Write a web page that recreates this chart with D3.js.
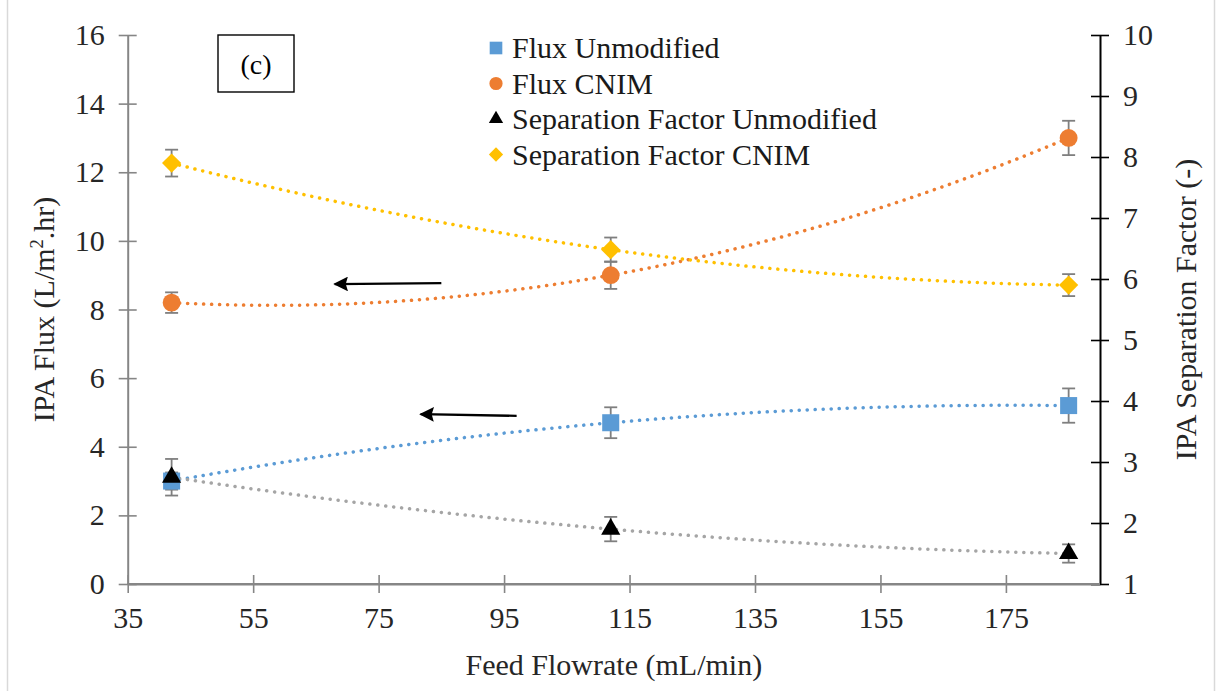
<!DOCTYPE html>
<html>
<head>
<meta charset="utf-8">
<script src="https://cdn.jsdelivr.net/npm/d3@7"></script>
<style>
  html, body { margin: 0; padding: 0; background: #fff; }
  svg { display: block; }
  svg text { font-family: "Liberation Serif", "Times New Roman", serif; }
</style>
</head>
<body>
<svg id="chart" width="1221" height="691"></svg>
<script>
// Feed flowrate (mL/min)
const flowrate = [42, 112, 185];

// IPA flux (L/m².hr), left axis
const fluxUnmodified = [3.0, 4.7, 5.2];
const fluxUnmodifiedErr = [0.25, 0.45, 0.5];
const fluxCNIM = [8.2, 9.0, 13.0];
const fluxCNIMErr = [0.3, 0.4, 0.5];

// IPA separation factor (-), right axis
const sepUnmodified = [2.75, 1.9, 1.5];
const sepUnmodifiedErr = [0.3, 0.2, 0.15];
const sepCNIM = [7.9, 6.48, 5.9];
const sepCNIMErr = [0.22, 0.2, 0.18];

const xTicks = [35, 55, 75, 95, 115, 135, 155, 175];
const yLeftTicks = [0, 2, 4, 6, 8, 10, 12, 14, 16];
const yRightTicks = [1, 2, 3, 4, 5, 6, 7, 8, 9, 10];

const legendLabels = ["Flux Unmodified", "Flux CNIM", "Separation Factor Unmodified", "Separation Factor CNIM"];

// Arrows pointing each flux curve to the left axis: [x1, y1, x2, y2] in data units (flowrate, flux)
const arrows = [
  [85, 8.77, 68, 8.74],
  [97, 4.9, 81.7, 4.95]
];

const svg = d3.select("#chart");
const W = 1221, H = 691;
const plot = { left: 127.7, right: 1100, top: 35, bottom: 584 };

const x = d3.scaleLinear().domain([35, 190]).range([plot.left, plot.right]);
const yL = d3.scaleLinear().domain([0, 16]).range([plot.bottom, plot.top]);
const yR = d3.scaleLinear().domain([1, 10]).range([plot.bottom, plot.top]);

const FONT = 30;
const SERIF = "Liberation Serif, Times New Roman, serif";
const gray = "#868686";

// light frame at the sides
svg.append("line").attr("x1", 7.5).attr("x2", 7.5).attr("y1", 0).attr("y2", H).attr("stroke", "#d9d9d9").attr("stroke-width", 1.5);
svg.append("line").attr("x1", 1214.5).attr("x2", 1214.5).attr("y1", 0).attr("y2", H).attr("stroke", "#d9d9d9").attr("stroke-width", 1.5);

// ---- axes ----
function styleAxis(g, color) {
  g.attr("font-family", SERIF);
  g.select(".domain").attr("stroke", color).attr("stroke-width", 2);
  g.selectAll(".tick line").attr("stroke", color).attr("stroke-width", 1.6);
  g.selectAll(".tick text").attr("fill", "#262626").attr("font-size", FONT);
}

const gx = svg.append("g").attr("transform", `translate(0,${plot.bottom})`)
  .call(d3.axisBottom(x).tickValues(xTicks).tickSizeOuter(0).tickSizeInner(9).tickPadding(14));
gx.selectAll(".tick line").attr("y1", -9).attr("y2", 9);
gx.selectAll(".tick text").attr("dy", "0.71em");
styleAxis(gx, gray);

const gyl = svg.append("g").attr("transform", `translate(${plot.left},0)`)
  .call(d3.axisLeft(yL).tickValues(yLeftTicks).tickSizeOuter(0).tickSizeInner(9).tickPadding(14));
gyl.selectAll(".tick line").attr("x1", -9).attr("x2", 9);
styleAxis(gyl, gray);

const gyr = svg.append("g").attr("transform", `translate(${plot.right},0)`)
  .call(d3.axisRight(yR).tickValues(yRightTicks).tickSizeOuter(0).tickSizeInner(9).tickPadding(14));
gyr.selectAll(".tick line").attr("x1", -9).attr("x2", 9);
styleAxis(gyr, "#000");
// bottom axis line drawn again so it meets the right axis
svg.append("line").attr("x1", plot.left).attr("x2", plot.right).attr("y1", plot.bottom).attr("y2", plot.bottom)
  .attr("stroke", gray).attr("stroke-width", 2);

// axis titles
svg.append("text").attr("x", (plot.left + plot.right) / 2).attr("y", 675)
  .attr("text-anchor", "middle").attr("font-size", FONT).attr("fill", "#262626")
  .text("Feed Flowrate (mL/min)");

const lt = svg.append("text").attr("transform", `translate(54,${(plot.top + plot.bottom) / 2}) rotate(-90)`)
  .attr("text-anchor", "middle").attr("font-size", FONT).attr("fill", "#262626");
lt.append("tspan").text("IPA Flux (L/m");
lt.append("tspan").attr("font-size", FONT * 0.62).attr("dy", -11).text("2");
lt.append("tspan").attr("dy", 11).text(".hr)");

svg.append("text").attr("transform", `translate(1196,${(plot.top + plot.bottom) / 2}) rotate(-90)`)
  .attr("text-anchor", "middle").attr("font-size", FONT).attr("fill", "#262626")
  .text("IPA Separation Factor (-)");

// ---- polynomial (order 2) trendlines through each series ----
function quadFit(xs, ys) {
  // exact quadratic through three points (Lagrange form)
  return function (t) {
    let s = 0;
    for (let i = 0; i < 3; i++) {
      let term = ys[i];
      for (let j = 0; j < 3; j++) if (j !== i) term *= (t - xs[j]) / (xs[i] - xs[j]);
      s += term;
    }
    return s;
  };
}
const xSamples = d3.range(flowrate[0], flowrate[2] + 0.001, 1);

const series = [
  { vals: fluxUnmodified, err: fluxUnmodifiedErr, y: yL, color: "#5B9BD5", trend: "#5B9BD5", shape: "square" },
  { vals: fluxCNIM, err: fluxCNIMErr, y: yL, color: "#ED7D31", trend: "#ED7D31", shape: "circle" },
  { vals: sepUnmodified, err: sepUnmodifiedErr, y: yR, color: "#000000", trend: "#A5A5A5", shape: "triangle" },
  { vals: sepCNIM, err: sepCNIMErr, y: yR, color: "#FFC000", trend: "#FFC000", shape: "diamond" }
];

series.forEach(s => {
  const f = quadFit(flowrate, s.vals);
  const line = d3.line().x(d => x(d)).y(d => s.y(f(d)));
  svg.append("path").datum(xSamples).attr("d", line)
    .attr("fill", "none").attr("stroke", s.trend).attr("stroke-width", 3.5)
    .attr("stroke-linecap", "round").attr("stroke-dasharray", "0.1 7.9");
});

// ---- error bars ----
series.forEach(s => {
  const g = svg.append("g").attr("stroke", "#7f7f7f").attr("stroke-width", 1.8);
  flowrate.forEach((fx, i) => {
    const cx = x(fx), top = s.y(s.vals[i] + s.err[i]), bot = s.y(s.vals[i] - s.err[i]);
    g.append("line").attr("x1", cx).attr("x2", cx).attr("y1", top).attr("y2", bot);
    g.append("line").attr("x1", cx - 6.5).attr("x2", cx + 6.5).attr("y1", top).attr("y2", top);
    g.append("line").attr("x1", cx - 6.5).attr("x2", cx + 6.5).attr("y1", bot).attr("y2", bot);
  });
});

// ---- markers ----
function markerPath(shape, scale) {
  const sizes = { square: 290, circle: 250, triangle: 160, diamond: 185 };
  const types = { square: d3.symbolSquare, circle: d3.symbolCircle, triangle: d3.symbolTriangle, diamond: d3.symbolSquare };
  return d3.symbol().type(types[shape]).size(sizes[shape] * scale)();
}
const rot = shape => shape === "diamond" ? " rotate(45)" : "";
series.forEach(s => {
  svg.append("g").selectAll("path").data(flowrate).join("path")
    .attr("d", markerPath(s.shape, 1))
    .attr("transform", (d, i) => `translate(${x(d)},${s.y(s.vals[i])})${rot(s.shape)}`)
    .attr("fill", s.color);
});

// ---- arrows ----
const defs = svg.append("defs");
defs.append("marker").attr("id", "head").attr("viewBox", "0 0 10 10")
  .attr("refX", 9).attr("refY", 5).attr("markerWidth", 7.2).attr("markerHeight", 6.4)
  .attr("markerUnits", "strokeWidth").attr("orient", "auto")
  .append("path").attr("d", "M0,0 L10,5 L0,10 L1.5,5 Z").attr("fill", "#000");
arrows.forEach(a => {
  svg.append("line").attr("x1", x(a[0])).attr("y1", yL(a[1])).attr("x2", x(a[2])).attr("y2", yL(a[3]))
    .attr("stroke", "#000").attr("stroke-width", 2.3)
    .attr("marker-end", "url(#head)");
});

// ---- "(c)" label box ----
svg.append("rect").attr("x", 218).attr("y", 35).attr("width", 76).attr("height", 57)
  .attr("fill", "#fff").attr("stroke", "#000").attr("stroke-width", 1.4);
svg.append("text").attr("x", 256).attr("y", 74).attr("text-anchor", "middle")
  .attr("font-size", 28).attr("fill", "#000").text("(c)");

// ---- legend ----
const legend = svg.append("g");
legendLabels.forEach((lab, i) => {
  const ly = 48 + i * 35.5;
  const s = series[i];
  legend.append("path").attr("d", markerPath(s.shape, 0.55))
    .attr("transform", `translate(496,${ly})${rot(s.shape)}`).attr("fill", s.color);
  legend.append("text").attr("x", 512).attr("y", ly + 10).attr("font-size", FONT).attr("fill", "#1a1a1a").text(lab);
});
</script>
</body>
</html>
